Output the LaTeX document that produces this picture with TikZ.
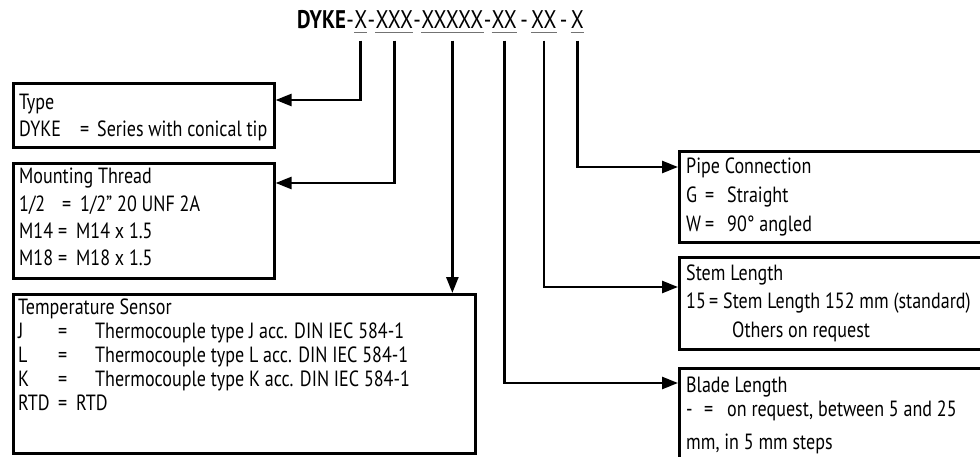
\documentclass[tikz,border=0pt]{standalone}
\usepackage{fontspec}
\setmainfont{PT Sans}[FakeStretch=0.82]
\usetikzlibrary{positioning,arrows.meta}

\newcommand{\kv}[4]{\makebox[#1][l]{#2}\makebox[11pt][c]{=}\hspace{#3}#4}

\begin{document}
\begin{tikzpicture}[x=1pt,y=-1pt]
    \tikzset{box/.style={draw=black,line width=2.6pt,anchor=north west,inner sep=0pt}}
    \tikzset{txt/.style={anchor=base west,inner sep=0pt,font=\fontsize{22}{#1}\selectfont}}
    \tikzset{hdr/.style={inner sep=0pt,text height=18pt,text depth=3.5pt,font=\fontsize{25.5}{30}\selectfont}}
    \tikzset{conn/.style={line width=2.6pt,-{Triangle[length=16pt,width=12pt]},shorten <=8pt}}
    \tikzset{uline/.style={line width=1pt,black!55}}

    \clip (0,0) rectangle (980,457);

    % order code
    \node[hdr,anchor=base west] (hDyke) at (297,29) {\bfseries DYKE};
    \node[hdr,right=0pt of hDyke] (hd1) {-};
    \node[hdr,right=0pt of hd1] (hType) {X};
    \node[hdr,right=0pt of hType] (hd2) {-};
    \node[hdr,right=0pt of hd2] (hThread) {XXX};
    \node[hdr,right=0pt of hThread] (hd3) {-};
    \node[hdr,right=0pt of hd3] (hSensor) {XXXXX};
    \node[hdr,right=0pt of hSensor] (hd4) {-};
    \node[hdr,right=0pt of hd4] (hBlade) {XX};
    \node[hdr,inner xsep=3pt,right=0pt of hBlade] (hd5) {-};
    \node[hdr,right=0pt of hd5] (hStem) {XX};
    \node[hdr,inner xsep=3pt,right=0pt of hStem] (hd6) {-};
    \node[hdr,right=0pt of hd6] (hPipe) {X};

    \foreach \g in {hType,hThread,hSensor,hBlade,hStem,hPipe}
        \draw[uline] (\g.south west) -- (\g.south east);

    % boxes
    \node[box,minimum width=261pt,minimum height=64pt] (type) at (12,82) {};
    \node[box,minimum width=261pt,minimum height=115pt] (thread) at (12,162) {};
    \node[box,minimum width=462pt,minimum height=159pt] (sensor) at (12,293) {};
    \node[box,minimum width=317pt,minimum height=91pt] (pipe) at (678,150) {};
    \node[box,minimum width=317pt,minimum height=92pt] (stem) at (678,256) {};
    \node[box,minimum width=317pt,minimum height=103pt] (blade) at (678,367) {};

    \node[txt=27] (typetxt) at (19,110) {\begin{tabular}[t]{@{}l@{}}
        Type\\
        \kv{60pt}{DYKE}{7pt}{Series with conical tip}
    \end{tabular}};
    \node[txt=27.3] (threadtxt) at (19,184) {\begin{tabular}[t]{@{}l@{}}
        Mounting Thread\\
        \kv{42pt}{1/2}{8pt}{1/2" 20 UNF 2A}\\
        \kv{38pt}{M14}{8pt}{M14 x 1.5}\\
        \kv{38pt}{M18}{8pt}{M18 x 1.5}
    \end{tabular}};
    \node[txt=24] (sensortxt) at (18,314) {\begin{tabular}[t]{@{}l@{}}
        Temperature Sensor\\
        \kv{39pt}{J}{27pt}{Thermocouple type J acc. DIN IEC 584-1}\\
        \kv{39pt}{L}{27pt}{Thermocouple type L acc. DIN IEC 584-1}\\
        \kv{39pt}{K}{27pt}{Thermocouple type K acc. DIN IEC 584-1}\\
        \kv{39pt}{RTD}{8pt}{RTD}
    \end{tabular}};
    \node[txt=29] (pipetxt) at (686,174) {\begin{tabular}[t]{@{}l@{}}
        Pipe Connection\\
        \kv{18pt}{G}{12pt}{Straight}\\
        \kv{18pt}{W}{12pt}{90° angled}
    \end{tabular}};
    \node[txt=28.5] (stemtxt) at (686,280) {\begin{tabular}[t]{@{}l@{}}
        Stem Length\\
        \kv{22pt}{15}{4pt}{Stem Length 152 mm (standard)}\\
        \hspace{46pt}Others on request
    \end{tabular}};
    \node[txt=24] (bladetxt) at (686,392) {\begin{tabular}[t]{@{}l@{}}
        Blade Length\\
        \kv{17pt}{-}{13pt}{on request, between 5 and 25}\\[9pt]
        mm, in 5 mm steps
    \end{tabular}};

    % connectors
    \draw[conn] (hType.south) |- ([yshift=-18pt]type.north east);
    \draw[conn] (hThread.south) |- ([yshift=-21pt]thread.north east);
    \draw[conn] (hSensor.south) -- (hSensor.south |- sensor.north);
    \draw[conn] (hBlade.south) |- ([yshift=-16pt]blade.north west);
    \draw[conn] (hStem.south) |- ([yshift=-31pt]stem.north west);
    \draw[conn] (hPipe.south) |- ([yshift=-17pt]pipe.north west);
\end{tikzpicture}
\end{document}
